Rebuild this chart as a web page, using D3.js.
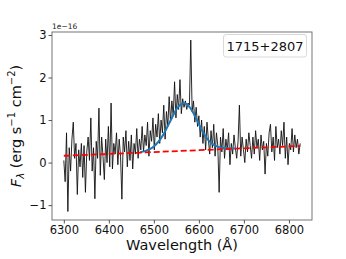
<!DOCTYPE html>
<html>
<head>
<meta charset="utf-8">
<script src="https://cdn.jsdelivr.net/npm/d3@7"></script>
<style>
  body { margin: 0; background: #fff; }
  svg { display: block; font-family: "DejaVu Sans", sans-serif; }
</style>
</head>
<body>
<svg id="chart"></svg>
<script>
// spectrum, 3 A sampling from 6300 A
const waveStart = 6300, waveStep = 3;
const flux = [
  0.05, -0.45, 0.70, -1.15, 0.35, -0.20, 0.55, 0.95, 0.10, 0.45,
  -0.75, 0.30, -0.10, 0.45, -0.35, 0.40, -0.70, 0.25, 0.60, 0.05,
  1.05, -0.20, 0.35, -0.85, 0.50, 0.10, 1.28, -0.30, 0.60, 0.15,
  -0.40, 0.55, 0.00, 0.85, -0.10, 1.40, -0.15, 0.45, 0.20, 0.70,
  -0.05, 0.55, 0.15, -0.86, 0.60, 0.25, 0.75, -0.10, 0.50, 0.05,
  0.65, -0.15, 0.45, 0.20, 0.80, 0.10, 0.55, 0.30, 0.85, 0.25,
  0.65, 0.40, 0.95, 0.15, 0.75, 0.50, 1.05, 0.30, 0.90, 0.60,
  1.15, 0.45, 1.00, 0.70, 1.35, 0.55, 1.20, 0.85, 1.55, 0.95,
  1.45, 1.10, 1.90, 1.05, 1.60, 1.25, 1.95, 1.15, 1.50, 1.30,
  1.45, 1.25, 1.40, 1.35, 2.88, 1.20, 1.45, 0.95, 1.30, 0.85,
  1.10, 0.60, 1.00, 0.45, 0.85, 0.30, 0.95, 0.55, 0.20, 0.75,
  0.35, 0.90, 0.15, 0.70, 0.40, -0.70, 0.60, 0.25, 0.80, 0.10,
  0.55, 0.30, 0.70, -0.05, 0.45, 0.20, 0.65, 0.35, 0.10, 0.50,
  1.35, 0.15, 0.60, 0.30, 0.00, 0.55, 0.25, 0.70, 0.40, 0.10,
  0.60, 0.20, 0.75, 0.35, 0.55, 0.05, 0.65, 0.30, 0.50, -0.27,
  0.45, 0.15, 0.70, 0.90, 0.25, 0.60, 0.05, 0.85, 0.35, 0.55,
  0.20, 0.75, 0.40, 0.95, 0.10, 0.60, -0.05, 0.45, 0.30, 0.80,
  0.25, 0.65, 0.35, 0.55, 0.20, 0.45
];

// gaussian fit, read every 10 A
const fitWave = [6470, 6480, 6490, 6500, 6510, 6520, 6530, 6540, 6550, 6560, 6570,
                 6580, 6590, 6600, 6610, 6620, 6630, 6640, 6650, 6660, 6670, 6680];
const fitFlux = [0.25, 0.27, 0.31, 0.38, 0.49, 0.64, 0.84, 1.05, 1.25, 1.37, 1.39,
                 1.30, 1.12, 0.90, 0.70, 0.54, 0.44, 0.38, 0.35, 0.34, 0.33, 0.33];

// continuum
const contWave = [6300, 6825];
const contFlux = [0.16, 0.39];

const xTicks = [6300, 6400, 6500, 6600, 6700, 6800];
const yTicks = [-1, 0, 1, 2, 3];
const legendLabel = "1715+2807";

const width = 346, height = 259;
const margin = { left: 52, right: 34, top: 32, bottom: 39 };

const svg = d3.select("#chart")
    .attr("width", width)
    .attr("height", height);

const x = d3.scaleLinear().domain([6273.75, 6851.25]).range([margin.left, width - margin.right]);
const y = d3.scaleLinear().domain([-1.35, 3.07]).range([height - margin.bottom, margin.top]);

const spectrum = flux.map((f, i) => [waveStart + i * waveStep, f]);
const fit = fitWave.map((w, i) => [w, fitFlux[i]]);
const cont = contWave.map((w, i) => [w, contFlux[i]]);

const line = d3.line().x(d => x(d[0])).y(d => y(d[1]));

svg.append("path")
    .datum(spectrum)
    .attr("d", line)
    .attr("fill", "none")
    .attr("stroke", "#111")
    .attr("stroke-width", 0.9);

svg.append("path")
    .datum(fit)
    .attr("d", line.curve(d3.curveCatmullRom))
    .attr("fill", "none")
    .attr("stroke", "#1f77b4")
    .attr("stroke-width", 2);

svg.append("path")
    .datum(cont)
    .attr("d", d3.line().x(d => x(d[0])).y(d => y(d[1])))
    .attr("fill", "none")
    .attr("stroke", "#ff0000")
    .attr("stroke-width", 1.8)
    .attr("stroke-dasharray", "6,3");

// axes frame
svg.append("rect")
    .attr("x", margin.left)
    .attr("y", margin.top)
    .attr("width", width - margin.left - margin.right)
    .attr("height", height - margin.top - margin.bottom)
    .attr("fill", "none")
    .attr("stroke", "#666")
    .attr("stroke-width", 0.9);

const xAxis = svg.append("g")
    .attr("transform", `translate(0,${height - margin.bottom})`)
    .call(d3.axisBottom(x).tickValues(xTicks).tickSize(3.5).tickPadding(2)
        .tickFormat(d3.format("d")));
const yAxis = svg.append("g")
    .attr("transform", `translate(${margin.left},0)`)
    .call(d3.axisLeft(y).tickValues(yTicks).tickSize(3.5).tickPadding(2)
        .tickFormat(d => d < 0 ? "\u2212" + Math.abs(d) : d));

[xAxis, yAxis].forEach(a => {
    a.select(".domain").remove();
    a.selectAll("line").attr("stroke", "#444").attr("stroke-width", 0.9);
    a.selectAll("text").attr("font-size", 11.5).attr("fill", "#111")
        .attr("font-family", "DejaVu Sans");
});

svg.append("text")
    .attr("x", margin.left)
    .attr("y", margin.top - 3)
    .attr("font-size", 7.5)
    .attr("fill", "#222")
    .text("1e\u221216");

svg.append("text")
    .attr("x", (margin.left + width - margin.right) / 2)
    .attr("y", 250)
    .attr("text-anchor", "middle")
    .attr("font-size", 14.5)
    .attr("fill", "#111")
    .text("Wavelength (\u00c5)");

const yl = svg.append("text")
    .attr("transform", `translate(21,${(margin.top + height - margin.bottom) / 2}) rotate(-90)`)
    .attr("text-anchor", "middle")
    .attr("font-size", 14.5)
    .attr("fill", "#111");
yl.append("tspan").attr("font-style", "italic").text("F");
yl.append("tspan").attr("font-size", 10).attr("dy", 3).attr("font-style", "italic").text("\u03bb");
yl.append("tspan").attr("dy", -3).text(" (erg s");
yl.append("tspan").attr("font-size", 10).attr("dy", -6).text("\u22121");
yl.append("tspan").attr("dy", 6).text(" cm");
yl.append("tspan").attr("font-size", 10).attr("dy", -6).text("\u22122");
yl.append("tspan").attr("dy", 6).text(")");

// legend box
const lg = svg.append("g");
lg.append("rect")
    .attr("x", 223.5).attr("y", 34.5)
    .attr("width", 83).attr("height", 22.5)
    .attr("rx", 2.5)
    .attr("fill", "rgba(255,255,255,0.8)")
    .attr("stroke", "#d5d5d5")
    .attr("stroke-width", 0.9);
lg.append("text")
    .attr("x", 265).attr("y", 50.5)
    .attr("text-anchor", "middle")
    .attr("font-size", 13)
    .attr("fill", "#111")
    .text(legendLabel);
</script>
</body>
</html>
